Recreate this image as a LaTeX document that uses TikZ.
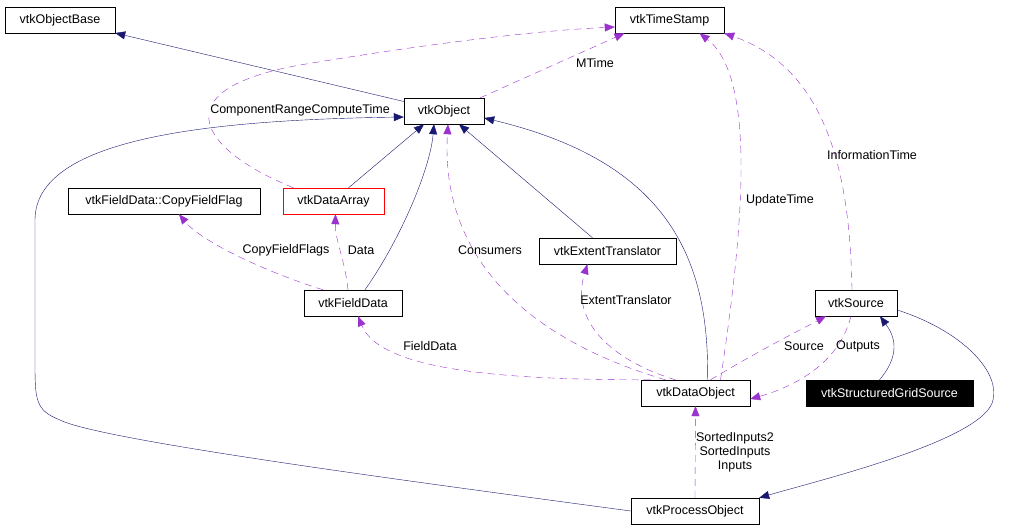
\documentclass[tikz,border=0pt]{standalone}
\usepackage{fontspec}
\setmainfont{Liberation Sans}
\usetikzlibrary{arrows.meta}
\definecolor{nv}{HTML}{191970}
\definecolor{pp}{HTML}{9A32CD}
\begin{document}
\begin{tikzpicture}[x=1pt,y=-1pt,
  every node/.style={font=\fontsize{12.5}{14}\selectfont},
  box/.style={draw=black,fill=white,minimum height=26pt,inner sep=0pt},
  inh/.style={draw=nv,-{Triangle[length=10pt,width=8pt,fill=nv]}},
  use/.style={draw=pp,dash pattern=on 7pt off 5pt,-{Triangle[length=10pt,width=8pt,fill=pp]}},
  lbl/.style={inner sep=1pt,align=center}]
\useasboundingbox (0,0) rectangle (1032,531);
\node[box,minimum width=110pt] (objbase) at (60,20) {vtkObjectBase};
\node[box,minimum width=109pt] (ts) at (669.5,20) {vtkTimeStamp};
\node[box,minimum width=80pt] (obj) at (444,111) {vtkObject};
\node[box,draw=red,minimum width=101pt] (da) at (333.5,201) {vtkDataArray};
\node[box,minimum width=192pt] (cff) at (164,201) {vtkFieldData::CopyFieldFlag};
\node[box,minimum width=137pt] (et) at (607.5,251) {vtkExtentTranslator};
\node[box,minimum width=98pt] (fd) at (353,303) {vtkFieldData};
\node[box,minimum width=82pt] (src) at (856,303) {vtkSource};
\node[box,minimum width=109pt] (dobj) at (695.5,393) {vtkDataObject};
\node[box,fill=black,text=white,minimum width=167pt] (sgs) at (889.5,393) {vtkStructuredGridSource};
\node[box,minimum width=128pt] (po) at (695,511) {vtkProcessObject};

% inheritance
\draw[inh] (obj) -- (objbase);
\draw[inh] ([xshift=15pt]da.north) -- ([xshift=-20pt]obj.south);
\draw[inh] ([xshift=12pt]fd.north) .. controls (400,240) and (430,170) .. ([xshift=-10pt]obj.south);
\draw[inh] ([xshift=-15pt]et.north) -- ([xshift=15pt]obj.south);
\draw[inh] ([xshift=12pt]dobj.north) .. controls (710,250) and (660,160) .. ([yshift=-7pt]obj.east);
\draw[inh] (po.west) .. controls (400,480) and (100,440) .. (60,420) .. controls (35,410) and (35,400) .. (35,360) -- (35,220) .. controls (35,140) and (200,120) .. ([yshift=-6pt]obj.west);
\draw[inh] ([yshift=-7pt]src.east) .. controls (960,330) and (1000,370) .. (993,400) .. controls (985,440) and (820,480) .. (po.north east);
\draw[inh] ([xshift=-10pt]sgs.north) .. controls (905,350) and (890,330) .. ([xshift=24pt]src.south);

% usage
\draw[use] ([xshift=-40pt]da.north) .. controls (200,150) and (160,90) .. (300,65) .. controls (450,40) and (550,30) .. ([yshift=-7pt]ts.west);
\node[lbl,fill=white] (l1) at (300,110) {ComponentRangeComputeTime};
\draw[use] ([xshift=-4pt]obj.north east) -- ([xshift=-45pt]ts.south);
\node[lbl] (l2) at (595,63) {MTime};
\draw[use] ([xshift=-30pt]fd.north) .. controls (260,270) and (200,240) .. ([xshift=15pt]cff.south);
\node[lbl] (l3) at (286,250) {CopyFieldFlags};
\draw[use] ([xshift=-5pt]fd.north) .. controls (345,260) and (335,240) .. ([xshift=2pt]da.south);
\node[lbl] (l4) at (361,250) {Data};
\draw[use] ([xshift=-30pt]dobj.north) .. controls (530,340) and (440,260) .. ([xshift=4pt]obj.south);
\node[lbl] (l5) at (490,250) {Consumers};
\draw[use] ([xshift=-20pt]dobj.north) .. controls (610,360) and (570,320) .. ([xshift=-20pt]et.south);
\node[lbl] (l6) at (626,300) {ExtentTranslator};
\draw[use] ([xshift=-45pt]dobj.north) .. controls (500,380) and (380,370) .. ([xshift=5pt]fd.south);
\node[lbl] (l7) at (430,346) {FieldData};
\draw[use] ([xshift=25pt]dobj.north) .. controls (740,250) and (760,80) .. ([xshift=30pt]ts.south);
\node[lbl] (l8) at (780,200) {UpdateTime};
\draw[use] ([xshift=15pt]dobj.north) .. controls (760,350) and (800,330) .. ([xshift=-30pt]src.south);
\node[lbl] (l9) at (804,346) {Source};
\draw[use] ([xshift=-5pt]src.south) .. controls (840,360) and (800,385) .. ([yshift=-6pt]dobj.east);
\node[lbl] (l10) at (858,346) {Outputs};
\draw[use] ([xshift=-4pt]src.north) .. controls (850,180) and (830,70) .. (ts.south east);
\node[lbl] (l11) at (872,155) {InformationTime};
\draw[use] (po.north) -- (dobj.south);
\node[lbl,font=\fontsize{12.5}{14}\selectfont] (l12) at (735,452) {SortedInputs2\\SortedInputs\\Inputs};
\end{tikzpicture}
\end{document}
